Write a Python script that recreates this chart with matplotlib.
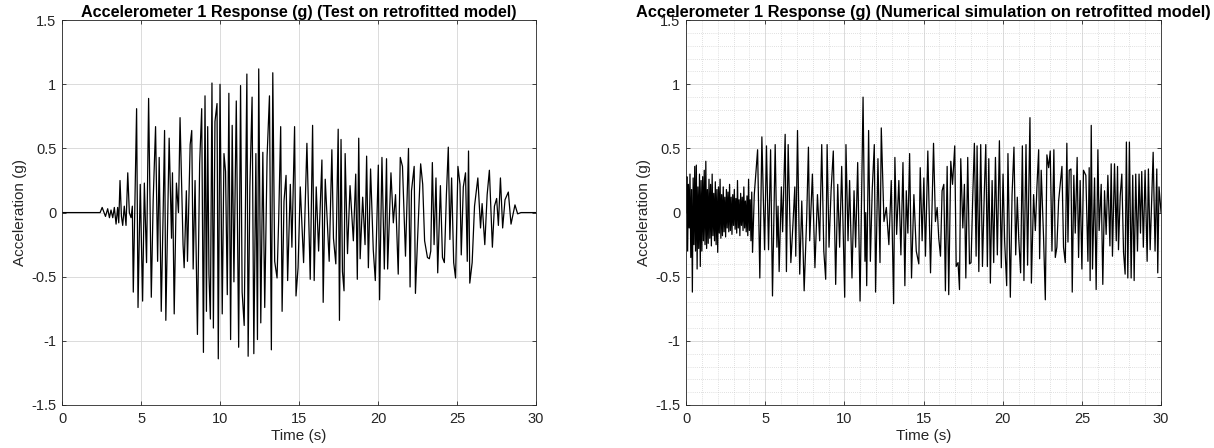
"""Accelerometer 1 response: shake-table test vs numerical simulation (retrofitted model)."""

import matplotlib

matplotlib.use("Agg")
import matplotlib.pyplot as plt
import numpy as np
from matplotlib.ticker import MultipleLocator


# --- test on retrofitted model: extrema (time s, acceleration g)
test_t = [
    0.0, 2.41, 2.54, 2.75, 2.89, 3.00, 3.10, 3.21, 3.31, 3.42, 3.52, 3.59, 3.67, 3.76,
    3.84, 3.94, 4.05, 4.16, 4.26, 4.37, 4.45, 4.51, 4.72, 4.81, 4.95, 5.10, 5.21, 5.35,
    5.48, 5.65, 5.77, 5.92, 6.05, 6.15, 6.28, 6.40, 6.49, 6.57, 6.78, 6.93, 6.99, 7.10,
    7.24, 7.37, 7.47, 7.66, 7.73, 7.87, 7.94, 8.11, 8.21, 8.30, 8.42, 8.57, 8.71, 8.84,
    8.95, 9.05, 9.14, 9.22, 9.30, 9.39, 9.49, 9.58, 9.68, 9.81, 9.89, 10.00, 10.14,
    10.25, 10.35, 10.46, 10.56, 10.67, 10.77, 10.88, 11.03, 11.18, 11.30, 11.40, 11.53,
    11.70, 11.78, 11.89, 12.03, 12.14, 12.27, 12.37, 12.45, 12.58, 12.71, 12.83, 12.98,
    13.13, 13.25, 13.34, 13.46, 13.61, 13.71, 13.84, 13.93, 14.05, 14.18, 14.28, 14.45,
    14.55, 14.72, 14.81, 14.94, 15.08, 15.29, 15.50, 15.71, 15.86, 15.96, 16.09, 16.24,
    16.45, 16.53, 16.66, 16.91, 17.08, 17.18, 17.33, 17.48, 17.56, 17.66, 17.75, 17.85,
    17.92, 18.07, 18.23, 18.44, 18.59, 18.69, 18.78, 18.87, 19.03, 19.18, 19.28, 19.39,
    19.53, 19.70, 19.83, 20.02, 20.10, 20.25, 20.40, 20.54, 20.61, 20.82, 20.97, 21.11,
    21.28, 21.41, 21.55, 21.74, 21.93, 22.03, 22.12, 22.29, 22.37, 22.50, 22.70, 22.83,
    22.95, 23.13, 23.25, 23.34, 23.44, 23.55, 23.67, 23.78, 23.95, 24.08, 24.20, 24.33,
    24.45, 24.55, 24.66, 24.79, 24.91, 25.06, 25.19, 25.27, 25.40, 25.54, 25.65, 25.73,
    25.81, 25.96, 26.11, 26.32, 26.49, 26.59, 26.76, 26.91, 27.05, 27.24, 27.37, 27.51,
    27.62, 27.75, 27.89, 28.04, 28.25, 28.42, 28.67, 28.84, 29.05, 30.0,
]
test_g = [
    0.0, 0.0, 0.04, -0.03, 0.03, -0.04, 0.02, -0.04, 0.04, -0.09, 0.04, -0.08, 0.25, -0.03,
    -0.10, 0.05, -0.10, 0.31, 0.00, -0.04, 0.05, -0.62, 0.81, -0.74, 0.22, -0.69, 0.23, -0.39,
    0.89, -0.66, 0.10, 0.67, -0.38, 0.43, -0.77, 0.00, 0.64, -0.84, 0.58, -0.20, 0.31, -0.79,
    0.23, 0.00, 0.74, -0.25, -0.43, 0.17, -0.38, 0.53, 0.64, -0.44, 0.25, -0.95, 0.38, 0.81,
    -1.09, 0.91, -0.77, 0.67, -0.48, -0.83, 1.01, -0.90, 0.71, 0.85, -1.14, 1.00, -0.79,
    0.46, 0.32, -0.64, 0.93, -0.99, 0.68, -0.54, 0.87, -1.05, 0.99, -0.62, -0.88,
    1.08, -1.12, 0.20, 0.90, -1.10, 0.46, -0.99, 1.12, -0.86, 0.47, -0.74, 0.44,
    0.91, -1.07, 1.09, -0.38, -0.51, -0.07, 0.67, -0.77, 0.09, 0.29, -0.53, 0.22,
    -0.27, 0.67, -0.65, -0.43, 0.20, -0.39, 0.54, -0.52, 0.68, -0.53, 0.20, -0.30,
    0.41, -0.70, 0.26, -0.38, 0.49, -0.20, -0.40, 0.65, -0.84, 0.57, -0.46, -0.61,
    0.46, -0.32, 0.21, -0.22, 0.30, -0.52, 0.58, -0.36, 0.12, -0.25, 0.44, -0.43,
    0.34, -0.29, -0.53, 0.37, -0.68, 0.43, -0.44, 0.42, -0.44, 0.31, -0.08, 0.14,
    -0.48, 0.43, 0.36, -0.34, 0.50, -0.58, 0.17, 0.36, -0.63, -0.22, 0.38, 0.22,
    -0.22, -0.35, -0.36, -0.30, 0.39, -0.25, 0.27, -0.47, 0.21, -0.35, -0.39, 0.14,
    0.51, -0.21, 0.27, -0.39, -0.51, 0.36, 0.22, -0.33, 0.20, 0.31, -0.38, 0.48,
    -0.55, -0.39, 0.05, 0.27, -0.12, 0.07, -0.25, 0.14, 0.33, -0.27, 0.05, 0.11,
    -0.10, 0.27, -0.12, 0.10, 0.16, -0.09, 0.06, -0.01, 0.0, 0.0,
]

# --- numerical simulation: dense high-frequency start, sampled every 0.05 s
sim_burst_dt = 0.05
sim_burst_g = [
    0.00, 0.28, -0.30, 0.22, -0.12, 0.30, -0.35, 0.18, -0.62, 0.27,
    -0.25, 0.36, -0.30, 0.37, -0.44, 0.20, -0.28, 0.30, -0.42, 0.25,
    -0.30, 0.28, -0.22, 0.33, -0.25, 0.40, -0.28, 0.18, -0.24, 0.26,
    -0.20, 0.22, -0.26, 0.30, -0.18, 0.15, -0.22, 0.24, -0.25, 0.18,
    -0.31, 0.20, -0.16, 0.26, -0.20, 0.14, -0.18, 0.20, -0.15, 0.12,
    -0.19, 0.18, -0.12, 0.16, -0.15, 0.22, -0.14, 0.12, -0.17, 0.14,
    -0.10, 0.18, -0.13, 0.11, -0.16, 0.25, -0.12, 0.10, -0.18, 0.15,
    -0.10, 0.12, -0.14, 0.20, -0.12, 0.09, -0.15, 0.13, -0.18, 0.26,
    -0.14, 0.10, -0.22, 0.16, -0.31,
]

# --- numerical simulation after 4.3 s: extrema (time s, acceleration g)
sim_t = [
    4.31, 4.52, 4.66, 4.79, 4.96, 5.08, 5.21, 5.34, 5.46, 5.63, 5.74, 5.81, 5.88, 6.02,
    6.10, 6.26, 6.34, 6.45, 6.62, 6.74, 6.87, 6.93, 7.04, 7.18, 7.31, 7.46, 7.62, 7.73,
    7.81, 7.98, 8.14, 8.30, 8.44, 8.57, 8.70, 8.82, 8.91, 9.03, 9.16, 9.30, 9.45, 9.58,
    9.70, 9.83, 10.02, 10.10, 10.23, 10.33, 10.48, 10.61, 10.71, 10.84, 10.99, 11.18,
    11.30, 11.35, 11.41, 11.53, 11.64, 11.76, 11.89, 11.97, 12.12, 12.25, 12.33, 12.50,
    12.65, 12.81, 12.96, 13.11, 13.19, 13.30, 13.44, 13.57, 13.70, 13.82, 13.91, 14.01,
    14.12, 14.24, 14.39, 14.54, 14.70, 14.79, 14.91, 15.02, 15.12, 15.27, 15.44, 15.63,
    15.75, 15.86, 15.96, 16.07, 16.17, 16.28, 16.38, 16.49, 16.59, 16.72, 16.83, 16.97,
    17.06, 17.18, 17.27, 17.35, 17.48, 17.58, 17.67, 17.79, 17.90, 18.00, 18.11, 18.21,
    18.32, 18.38, 18.49, 18.61, 18.72, 18.84, 18.93, 19.03, 19.12, 19.22, 19.33, 19.43,
    19.54, 19.66, 19.79, 19.91, 20.02, 20.12, 20.25, 20.33, 20.48, 20.59, 20.71, 20.82,
    20.92, 21.01, 21.13, 21.24, 21.34, 21.47, 21.57, 21.72, 21.81, 21.95, 22.06, 22.16,
    22.27, 22.33, 22.43, 22.58, 22.69, 22.79, 22.90, 23.00, 23.11, 23.23, 23.32, 23.42,
    23.53, 23.63, 23.74, 23.84, 23.95, 24.05, 24.12, 24.20, 24.31, 24.39, 24.49, 24.58,
    24.70, 24.79, 24.89, 25.00, 25.10, 25.25, 25.38, 25.46, 25.52, 25.59, 25.67, 25.80,
    25.90, 26.01, 26.09, 26.22, 26.32, 26.43, 26.53, 26.64, 26.77, 26.85, 26.93, 27.06,
    27.17, 27.25, 27.31, 27.42, 27.52, 27.63, 27.73, 27.81, 27.90, 28.00, 28.11, 28.21,
    28.30, 28.40, 28.51, 28.61, 28.70, 28.78, 28.88, 28.99, 29.12, 29.20, 29.31, 29.41,
    29.50, 29.62, 29.73, 29.79, 29.87, 30.0,
]
sim_g = [
    0.14, 0.49, -0.51, 0.59, -0.29, 0.52, -0.29, 0.49, -0.65, 0.53, -0.27, 0.05, -0.46, 0.20,
    -0.15, 0.61, -0.46, 0.53, -0.39, -0.12, 0.20, -0.34, 0.64, -0.48, 0.09, -0.61, -0.04, 0.51,
    -0.22, 0.30, -0.43, 0.14, -0.22, 0.53, -0.30, -0.52, 0.53, -0.27, 0.17, 0.48, -0.56, 0.22,
    -0.27, 0.36, -0.66, 0.53, -0.22, 0.25, -0.51, 0.17, -0.27, 0.39, -0.69, 0.90,
    -0.38, 0.00, -0.57, 0.64, -0.38, 0.18, 0.53, -0.62, 0.42, -0.39, 0.66, -0.07,
    0.04, -0.25, 0.25, -0.71, 0.43, -0.17, 0.25, -0.33, 0.39, -0.57, 0.17, -0.16,
    0.46, -0.51, 0.14, -0.30, -0.40, 0.35, -0.22, 0.27, -0.34, 0.48, -0.47, 0.54,
    -0.07, 0.04, -0.20, -0.34, 0.17, 0.22, -0.61, 0.36, -0.64, 0.40, 0.22, 0.52,
    -0.42, -0.39, -0.60, 0.42, -0.12, 0.22, -0.51, 0.43, -0.40, -0.39, 0.14, 0.54,
    -0.34, 0.52, -0.46, 0.53, -0.42, 0.17, 0.53, -0.42, 0.42, -0.55, 0.25, -0.39,
    0.43, -0.33, 0.56, -0.43, 0.30, -0.22, -0.57, 0.46, -0.66, 0.14, 0.51, -0.33,
    0.12, -0.20, -0.47, 0.52, -0.53, 0.53, -0.41, 0.74, -0.55, 0.14, -0.14, 0.20,
    0.49, -0.36, 0.33, -0.20, -0.68, 0.45, 0.35, 0.48, -0.30, 0.49, -0.35, -0.27,
    0.09, 0.22, 0.36, -0.27, -0.39, 0.54, -0.23, 0.33, 0.34, -0.62, 0.29, -0.16,
    0.43, -0.35, 0.25, -0.44, 0.33, 0.29, -0.38, 0.35, -0.53, 0.68, -0.44, 0.27,
    -0.60, 0.49, -0.14, 0.22, -0.56, 0.17, -0.17, 0.29, -0.26, 0.38, -0.34, 0.38,
    -0.22, 0.36, -0.29, 0.13, 0.30, -0.31, -0.48, 0.55, -0.51, 0.55, -0.51, 0.29,
    -0.53, 0.30, -0.30, 0.30, -0.16, 0.32, -0.27, 0.33, -0.38, 0.34, -0.29, 0.12,
    0.47, -0.30, 0.34, -0.47, 0.20, 0.0,
]

y_ticks = [-1.5, -1, -0.5, 0, 0.5, 1, 1.5]
y_tick_labels = ["-1.5", "-1", "-0.5", "0", "0.5", "1", "1.5"]
x_ticks = [0, 5, 10, 15, 20, 25, 30]

titles = [
    "Accelerometer 1 Response (g) (Test on retrofitted model)",
    "Accelerometer 1 Response (g) (Numerical simulation on retrofitted model)",
]


def style_axes(ax, minor_grid=False):
    ax.set_xlim(0, 30)
    ax.set_ylim(-1.5, 1.5)
    ax.set_xticks(x_ticks)
    ax.set_xticklabels([str(v) for v in x_ticks])
    ax.set_yticks(y_ticks)
    ax.set_yticklabels(y_tick_labels)
    ax.tick_params(direction="in", length=3, width=0.6, colors="#262626",
                   labelsize=10.5, top=True, right=True, pad=5)
    ax.tick_params(axis="y", pad=4)
    for spine in ax.spines.values():
        spine.set_color("#262626")
        spine.set_linewidth(0.6)
    ax.grid(True, which="major", color="#d6d6d6", linewidth=0.6)
    if minor_grid:
        ax.xaxis.set_minor_locator(MultipleLocator(1))
        ax.yaxis.set_minor_locator(MultipleLocator(0.1))
        ax.grid(True, which="minor", color="#c4c4c4", linewidth=0.5, linestyle=(0, (1, 2)))
        ax.tick_params(which="minor", length=0)
    ax.set_axisbelow(True)
    ax.set_xlabel("Time (s)", fontsize=11, color="#262626", labelpad=2)
    ax.set_ylabel("Acceleration (g)", fontsize=11, color="#262626", labelpad=3)


def main():
    plt.rcParams["font.family"] = ["Liberation Sans", "DejaVu Sans"]

    fig = plt.figure(figsize=(12.14, 4.48), dpi=100)
    ax_test = fig.add_axes([0.0511, 0.096, 0.3904, 0.859])
    ax_sim = fig.add_axes([0.5651, 0.096, 0.3913, 0.859])

    ax_test.plot(test_t, test_g, color="black", linewidth=0.9)
    style_axes(ax_test)

    burst_t = np.arange(len(sim_burst_g)) * sim_burst_dt
    sim_all_t = np.concatenate([burst_t, sim_t])
    sim_all_g = np.concatenate([sim_burst_g, sim_g])
    ax_sim.plot(sim_all_t, sim_all_g, color="black", linewidth=0.9)
    style_axes(ax_sim, minor_grid=True)

    ax_test.set_title(titles[0], fontsize=11.6, fontweight="bold", color="black", pad=2)
    ax_sim.set_title(titles[1], fontsize=11.8, fontweight="bold", color="black", pad=2)

    fig.savefig("out.png", dpi=100)


if __name__ == "__main__":
    main()
